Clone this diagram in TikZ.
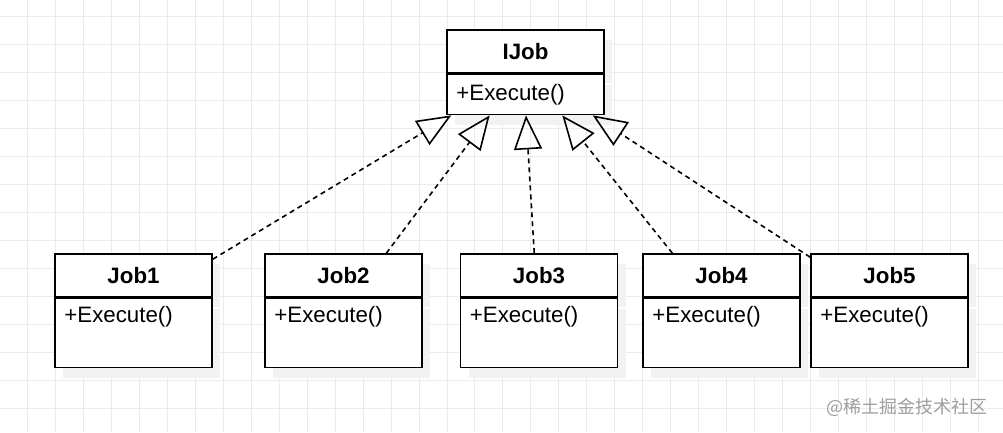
\documentclass[tikz,border=0pt]{standalone}
\usepackage{fontspec}
\setmainfont{Liberation Sans}
\newfontfamily\cjkfont{Noto Sans CJK SC}
\usepackage{tikz}
\usetikzlibrary{arrows.meta}
\usetikzlibrary{shadows}
\usetikzlibrary{calc}
\newcommand{\umlfont}{\fontsize{22.3}{26}\selectfont}
\tikzset{
  classhead/.style={draw, line width=1.6pt, fill=white, minimum width=157pt,
    minimum height=43pt, inner sep=0pt, font=\umlfont\bfseries,
    drop shadow={shadow xshift=8pt, shadow yshift=-10pt, fill=black!5, opacity=1}},
  classbody/.style={draw, line width=1.6pt, fill=white, minimum width=157pt,
    inner sep=0pt, anchor=north,
    drop shadow={shadow xshift=8pt, shadow yshift=-10pt, fill=black!5, opacity=1}},
  member/.style={anchor=west, inner sep=0pt, font=\umlfont},
  realize/.style={dash pattern=on 5pt off 4pt, line width=1.6pt,
    -{Triangle[open, length=34pt, width=28pt, line width=1.6pt]}},
  gridline/.style={draw=black!8, line width=0.8pt},
  watermark/.style={inner sep=0pt, text=black!38, font=\cjkfont\fontsize{18}{20}\selectfont}
}

\begin{document}
\begin{tikzpicture}[x=1pt, y=-1pt]
      \useasboundingbox (0,0) rectangle (1003,432);
      \fill[white] (0,0) rectangle (1003,432);
      \foreach \gx in {0,...,36}
        \draw[gridline] (\gx*27.95-0.3,0) -- (\gx*27.95-0.3,432);
      \foreach \gy in {0,...,15}
        \draw[gridline] (0,\gy*28+16) -- (1003,\gy*28+16);

      \node[classhead] (ijob) at (525.5,51.5) {IJob};
      \node[classbody, minimum height=40pt] (ijobb) at (ijob.south) {};
      \node[member] (ijobm) at ([xshift=10pt]ijobb.west) {+Execute()};

      \node[classhead] (job1) at (133.5,275.5) {Job1};
      \node[classbody, minimum height=69pt] (job1b) at (job1.south) {};
      \node[member] (job1m) at ([xshift=10pt,yshift=-19pt]job1b.north west) {+Execute()};

      \node[classhead] (job2) at (343.5,275.5) {Job2};
      \node[classbody, minimum height=69pt] (job2b) at (job2.south) {};
      \node[member] (job2m) at ([xshift=10pt,yshift=-19pt]job2b.north west) {+Execute()};

      \node[classhead] (job3) at (539,275.5) {Job3};
      \node[classbody, minimum height=69pt] (job3b) at (job3.south) {};
      \node[member] (job3m) at ([xshift=10pt,yshift=-19pt]job3b.north west) {+Execute()};

      \node[classhead] (job4) at (721.5,275.5) {Job4};
      \node[classbody, minimum height=69pt] (job4b) at (job4.south) {};
      \node[member] (job4m) at ([xshift=10pt,yshift=-19pt]job4b.north west) {+Execute()};

      \node[classhead] (job5) at (889.5,275.5) {Job5};
      \node[classbody, minimum height=69pt] (job5b) at (job5.south) {};
      \node[member] (job5m) at ([xshift=10pt,yshift=-19pt]job5b.north west) {+Execute()};

      \draw[realize] ([yshift=-6pt]job1.north east) -- ($(ijobb.south west)!0.032!(ijobb.south east)$);
      \draw[realize] ($(job2.north west)!0.77!(job2.north east)$) -- ($(ijobb.south west)!0.274!(ijobb.south east)$);
      \draw[realize] ($(job3.north west)!0.47!(job3.north east)$) -- ($(ijobb.south west)!0.503!(ijobb.south east)$);
      \draw[realize] ($(job4.north west)!0.19!(job4.north east)$) -- ($(ijobb.south west)!0.732!(ijobb.south east)$);
      \draw[realize] ([yshift=-4pt]job5.north west) -- ($(ijobb.south west)!0.924!(ijobb.south east)$);

      \node[watermark] (mark) at (907,407) {@稀土掘金技术社区};
    \end{tikzpicture}
\end{document}
